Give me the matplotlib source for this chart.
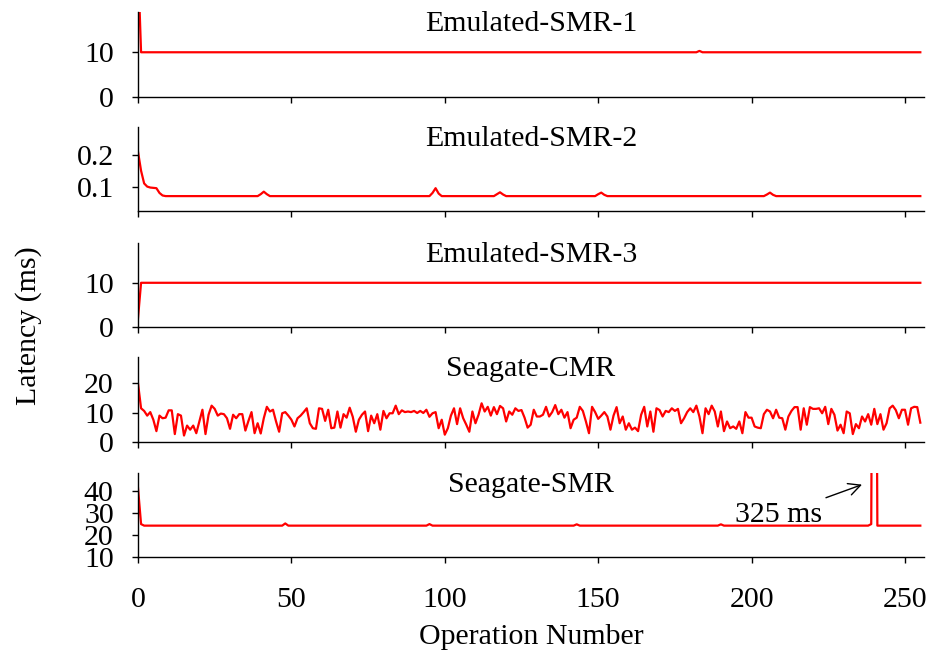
import numpy as np
import matplotlib
matplotlib.use("Agg")
import matplotlib.pyplot as plt

# --- Data ---
ops = np.arange(256)

smr1 = [30.0] + [10.0] * 182 + [10.3] + [10.0] * 72

smr2 = ([0.21, 0.15, 0.11, 0.100, 0.097, 0.096, 0.095, 0.080, 0.072]
        + [0.070] * 31 + [0.076, 0.084, 0.076]
        + [0.070] * 53 + [0.080, 0.095, 0.078]
        + [0.070] * 18 + [0.076, 0.082, 0.075]
        + [0.070] * 30 + [0.076, 0.081, 0.074]
        + [0.070] * 52 + [0.075, 0.081, 0.074]
        + [0.070] * 48)

smr3 = [2.0] + [10.0] * 255

cmr = [20.0, 11.5, 10.6, 9.0, 10.2, 7.6, 3.7, 9.0, 8.1, 8.3,
       10.8, 10.8, 2.7, 9.5, 9.0, 2.2, 5.6, 4.2, 5.6, 3.0,
       7.0, 11.0, 2.7, 9.3, 12.4, 11.3, 9.0, 9.7, 9.5, 8.1,
       4.5, 9.3, 8.1, 9.5, 9.5, 3.9, 7.2, 10.2, 3.0, 6.4,
       2.9, 8.1, 12.0, 10.4, 11.0, 7.0, 3.5, 9.8, 10.2, 9.0,
       7.6, 5.3, 8.1, 9.0, 10.2, 11.5, 6.4, 4.7, 4.5, 11.5,
       11.3, 7.2, 11.0, 4.7, 4.9, 10.4, 4.9, 9.5, 8.3, 11.7,
       8.6, 3.5, 7.6, 9.3, 10.4, 3.7, 9.0, 6.4, 9.5, 4.2,
       10.6, 8.1, 9.8, 9.8, 12.4, 9.5, 10.8, 10.2, 10.4, 10.2,
       10.6, 9.9, 10.6, 9.9, 11.0, 8.6, 9.8, 10.2, 4.7, 7.6,
       2.5, 4.7, 9.0, 11.5, 6.1, 11.5, 8.1, 5.9, 3.5, 10.4,
       6.4, 9.3, 13.2, 10.4, 12.0, 9.0, 11.9, 9.5, 12.3, 11.5,
       7.0, 10.4, 9.3, 11.5, 10.6, 10.9, 8.3, 4.9, 5.9, 11.0,
       8.7, 8.7, 9.3, 12.0, 8.7, 10.2, 12.6, 9.5, 11.0, 8.3,
       10.2, 4.7, 7.6, 8.3, 12.0, 10.6, 7.0, 3.0, 12.0, 10.2,
       7.9, 9.0, 10.2, 8.7, 4.2, 9.0, 11.9, 6.4, 8.7, 4.2,
       6.4, 4.2, 4.9, 3.7, 9.3, 12.0, 5.3, 10.4, 3.5, 11.5,
       10.9, 8.7, 10.6, 10.2, 11.5, 10.6, 11.3, 6.4, 8.1, 10.2,
       11.5, 10.2, 12.4, 8.7, 3.0, 11.5, 9.5, 12.4, 10.4, 5.3,
       10.4, 3.7, 7.0, 4.7, 5.3, 4.5, 7.0, 3.0, 10.2, 8.3,
       8.3, 5.3, 4.9, 4.7, 9.5, 11.0, 10.4, 8.1, 11.0, 8.3,
       8.1, 4.2, 8.7, 10.6, 11.9, 11.9, 4.2, 11.5, 5.9, 11.9,
       11.3, 11.3, 11.5, 9.8, 12.0, 6.1, 11.3, 9.3, 3.9, 5.9,
       3.0, 10.4, 9.8, 2.7, 6.1, 4.7, 8.7, 7.0, 9.5, 5.9,
       11.3, 6.1, 9.5, 4.2, 6.4, 11.5, 12.4, 10.9, 8.1, 11.0,
       11.0, 5.9, 11.5, 12.0, 11.9, 6.6]

seagate_smr = ([41.5, 25.0] + [24.3] * 46 + [25.3]
               + [24.3] * 46 + [25.0]
               + [24.3] * 47 + [24.9]
               + [24.3] * 46 + [24.9]
               + [24.3] * 48 + [25.0, 325.0]
               + [24.3] * 15)

panels = [
    ("Emulated-SMR-1", smr1, (0, 19), [0, 10], ["0", "10"]),
    ("Emulated-SMR-2", smr2, (0.023, 0.288), [0.1, 0.2], ["0.1", "0.2"]),
    ("Emulated-SMR-3", smr3, (0, 19), [0, 10], ["0", "10"]),
    ("Seagate-CMR", cmr, (0, 29), [0, 10, 20], ["0", "10", "20"]),
    ("Seagate-SMR", seagate_smr, (10, 48.3), [10, 20, 30, 40], ["10", "20", "30", "40"]),
]

x_ticks = [0, 50, 100, 150, 200, 250]

# --- Plot ---
plt.rcParams['font.family'] = ['Liberation Serif', 'DejaVu Serif']
fs = 21.5
plt.rcParams['font.size'] = fs

W, H = 931, 655
fig = plt.figure(figsize=(W / 100, H / 100), dpi=100)

rows = [(12, 97), (127, 211), (243, 327), (357, 442), (473, 557)]
left, right = 138, 924

axes = []
for (name, vals, ylim, yt, ytl), (top, bot) in zip(panels, rows):
    ax = fig.add_axes([left / W, 1 - bot / H, (right - left) / W, (bot - top) / H])
    ax.plot(ops, vals, color='#ff0000', lw=1.6)
    ax.set_xlim(0, 256.2)
    ax.set_ylim(*ylim)
    ax.set_yticks(yt)
    ax.set_yticklabels(ytl)
    ax.set_xticks(x_ticks)
    ax.spines['top'].set_visible(False)
    ax.spines['right'].set_visible(False)
    for s in ('left', 'bottom'):
        ax.spines[s].set_linewidth(1.0)
    ax.tick_params(direction='out', length=4.5, width=1.0, labelsize=fs)
    ax.tick_params(axis='y', pad=13)
    ax.tick_params(axis='x', pad=17)
    ax.text(0.5, 1 - 19 / (bot - top), name, transform=ax.transAxes,
            ha='center', va='baseline', fontsize=fs)
    if name != "Seagate-SMR":
        ax.set_xticklabels([])
    axes.append(ax)

axes[-1].annotate("325 ms", xy=(236, 43), xytext=(223, 26),
                  ha='right', va='baseline', fontsize=fs,
                  arrowprops=dict(arrowstyle='->', color='black', lw=1.0,
                                  shrinkA=3, shrinkB=0))

fig.text(28.5 / W, 1 - 326 / H, "Latency (ms)", rotation=90,
         ha='center', va='center', fontsize=fs)
fig.text(531 / W, 1 - 637 / H, "Operation Number",
         ha='center', va='center', fontsize=fs)

fig.savefig("out.png", dpi=100)
